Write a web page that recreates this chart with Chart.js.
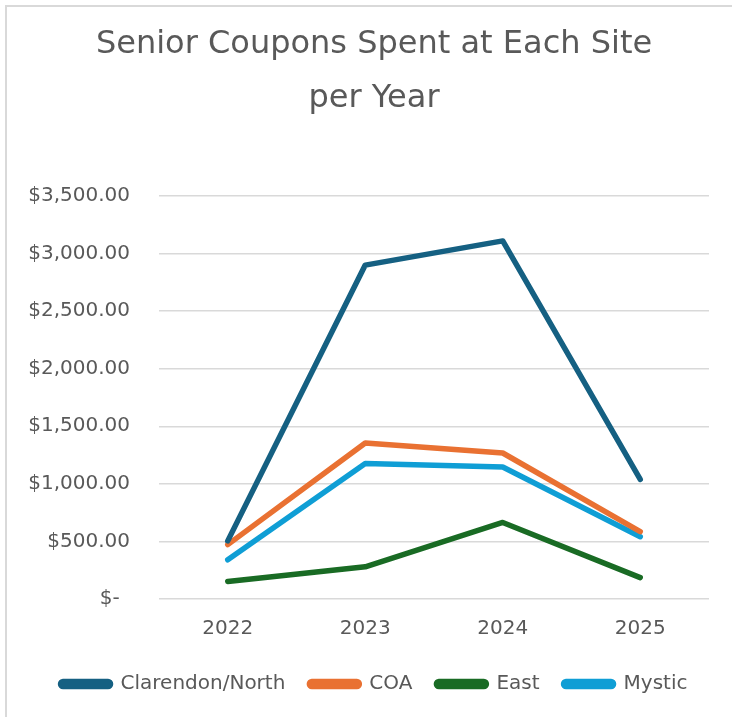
<!DOCTYPE html>
<html>
<head>
<meta charset="utf-8">
<script src="https://cdn.jsdelivr.net/npm/chart.js@4.4.1/dist/chart.umd.min.js"></script>
<style>
  html, body { margin: 0; padding: 0; background: #fff; overflow: hidden; }
  #page { position: relative; width: 732px; height: 717px; overflow: hidden; }
  #frame {
    position: absolute; left: 5px; top: 5px; width: 760px; height: 760px;
    border-left: 2px solid #d9d9d9; border-top: 2px solid #d9d9d9; box-sizing: border-box;
  }
  /* chart area of the original runs past the right edge, so the canvas does too */
  #wrap { position: absolute; left: 0; top: 0; width: 748px; height: 717px; }
</style>
</head>
<body>
<div id="page">
  <div id="frame"></div>
  <div id="wrap"><canvas id="couponChart"></canvas></div>
</div>
<script>
// values
const years = ["2022", "2023", "2024", "2025"];
const clarendon = [505, 2900, 3110, 1040];
const coa = [472, 1355, 1268, 585];
const east = [152, 280, 665, 186];
const mystic = [340, 1176, 1146, 541];

const FONT = "'DejaVu Sans', sans-serif";
const GREY = "#595959";

const series = (label, data, color) => ({
  label,
  data,
  borderColor: color,
  backgroundColor: color,
  borderWidth: 5.5,
  borderCapStyle: "round",
  borderJoinStyle: "round",
  pointRadius: 0,
  pointHoverRadius: 0,
  tension: 0,
  yAxisID: "y",
});

// Excel accounting style: $3,500.00 and "$-" for zero
const money = v => v === 0
  ? "$-\u00a0\u2009"
  : "$" + v.toLocaleString("en-US", { minimumFractionDigits: 2, maximumFractionDigits: 2 });

new Chart(document.getElementById("couponChart"), {
  type: "line",
  data: {
    labels: years,
    datasets: [
      series("Clarendon/North", clarendon, "#156082"),
      series("COA", coa, "#E97132"),
      series("East", east, "#196B24"),
      series("Mystic", mystic, "#0F9ED5"),
    ],
  },
  options: {
    responsive: true,
    maintainAspectRatio: false,
    animation: false,
    layout: { padding: { left: 0, right: 0, top: 0, bottom: 13 } },
    plugins: {
      title: {
        display: true,
        text: ["Senior Coupons Spent at Each Site", "per Year"],
        color: GREY,
        font: { family: FONT, size: 32, weight: "normal", lineHeight: 1.672 },
        padding: { top: 18, bottom: 71 },
      },
      legend: {
        position: "bottom",
        labels: {
          color: GREY,
          font: { family: FONT, size: 20 },
          boxWidth: 50,
          boxHeight: 5,
          useBorderRadius: true,
          borderRadius: 2.5,
          padding: 24,
        },
      },
      tooltip: { enabled: false },
    },
    scales: {
      x: {
        offset: true,
        afterFit: s => { s.height = 51; },
        grid: { display: false, drawTicks: false },
        border: { display: false },
        ticks: { color: GREY, font: { family: FONT, size: 20 }, padding: 18 },
      },
      y: {
        min: 0,
        max: 3500,
        afterFit: s => { s.width = 159; },
        ticks: {
          stepSize: 500,
          color: GREY,
          font: { family: FONT, size: 20 },
          padding: 29,
          callback: v => money(v),
        },
        grid: { color: "#d9d9d9", lineWidth: 1.5, drawTicks: false },
        border: { display: false },
      },
      // empty right-hand axis only reserves the margin right of the plot
      yPad: {
        position: "right",
        min: 0,
        max: 3500,
        afterFit: s => { s.width = 39; },
        ticks: { display: false },
        grid: { display: false, drawTicks: false },
        border: { display: false },
      },
    },
  },
});
</script>
</body>
</html>
